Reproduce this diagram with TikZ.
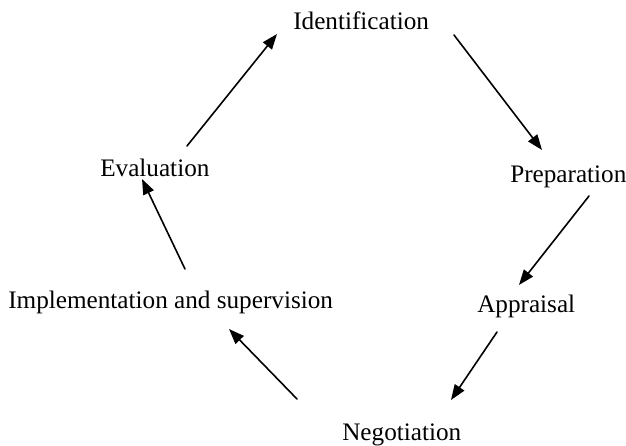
\documentclass[tikz,border=0pt]{standalone}
\usepackage{fontspec}
\setmainfont{Liberation Serif}
\usetikzlibrary{arrows.meta}
\newcommand{\stagefont}{\fontsize{18.9}{22}\selectfont}
\tikzset{
    cyclepic/.style={
        x=0.75pt, y=-0.75pt,
        line cap = round, line join = round,
    },
    stage/.style={anchor=base west, inner sep=0pt, font=\stagefont},
    cyclearrow/.style={-{Triangle[length=11.5pt,width=8.5pt]}, line width=1.2pt},
}
\begin{document}
\begin{tikzpicture}
        [cyclepic]
        \useasboundingbox (0,0) rectangle (626,446);
        \node[stage] (ident) at (293,30) {Identification};
        \node[stage] (prep) at (510,182) {Preparation};
        \node[stage] (appr) at (477,312) {Appraisal};
        \node[stage] (nego) at (342,440) {Negotiation};
        \node[stage] (impl) at (8,308) {Implementation and supervision};
        \node[stage] (eval) at (100,176) {Evaluation};
        % arrow ends
        \coordinate (e1) at (187,146); \coordinate (i1) at (277,34);
        \coordinate (i2) at (454,35);  \coordinate (p1) at (542,150);
        \coordinate (p2) at (589,196); \coordinate (a1) at (519,285);
        \coordinate (a2) at (497,332); \coordinate (n1) at (451,400);
        \coordinate (n2) at (297,399); \coordinate (m1) at (229,329);
        \coordinate (m2) at (185,269); \coordinate (e2) at (142,179);
        \draw[cyclearrow] (e1) -- (i1);
        \draw[cyclearrow] (i2) -- (p1);
        \draw[cyclearrow] (p2) -- (a1);
        \draw[cyclearrow] (a2) -- (n1);
        \draw[cyclearrow] (n2) -- (m1);
        \draw[cyclearrow] (m2) -- (e2);
\end{tikzpicture}
\end{document}
